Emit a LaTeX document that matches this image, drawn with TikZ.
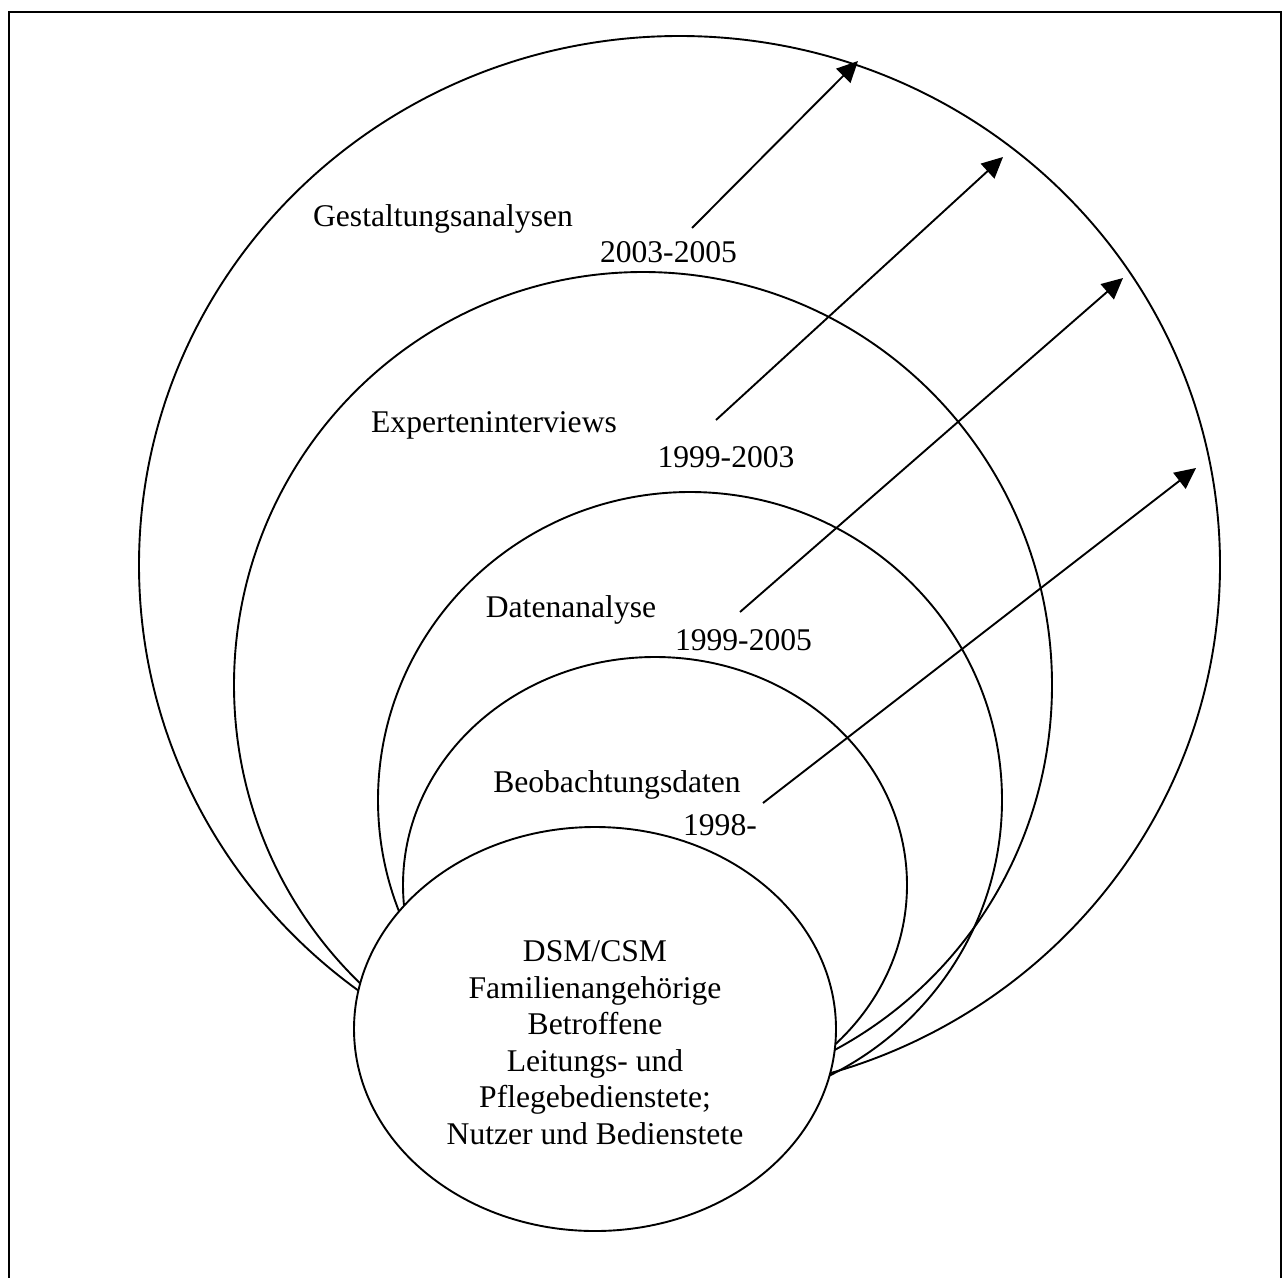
\documentclass[tikz,border=0pt]{standalone}
\usepackage{fontspec}
\setmainfont{Liberation Serif}
\usetikzlibrary{arrows.meta,shapes.geometric}
\begin{document}
\begin{tikzpicture}[x=1pt,y=-1pt,
  ring/.style={ellipse,draw,line width=1.9pt,inner sep=0pt,outer sep=0pt},
  lbl/.style={anchor=base,inner sep=0pt,font=\fontsize{31.6}{36.5}\selectfont},
  yr/.style={-{Triangle[length=21pt,width=20pt]},line width=1.9pt}]
\useasboundingbox (0,0) rectangle (1287,1277);
\draw[line width=2pt] (9,12) rectangle (1281,1300);
% rings
\node[ring,minimum width=1081pt,minimum height=1058pt] (e1) at (679.5,565) {};
\node[ring,minimum width=818pt,minimum height=826pt] (e2) at (643,685) {};
\node[ring,minimum width=624pt,minimum height=616pt] (e3) at (690,800) {};
\node[ring,minimum width=504pt,minimum height=456pt] (e4) at (655,885) {};
\node[ring,fill=white,minimum width=482pt,minimum height=404pt] (core) at (595,1029) {};
% arrows
\coordinate (a1s) at (692,228);  \coordinate (a1e) at (858,61);
\coordinate (a2s) at (716,420);  \coordinate (a2e) at (1003,157);
\coordinate (a3s) at (740,612);  \coordinate (a3e) at (1123,278);
\coordinate (a4s) at (763,803);  \coordinate (a4e) at (1196,468);
\draw[yr] (a1s) -- (a1e);
\draw[yr] (a2s) -- (a2e);
\draw[yr] (a3s) -- (a3e);
\draw[yr] (a4s) -- (a4e);
% labels
\node[lbl] (t1) at (443,226) {Gestaltungsanalysen};
\node[lbl] (y1) at (668.5,262) {2003-2005};
\node[lbl] (t2) at (494,432) {Experteninterviews};
\node[lbl] (y2) at (726,467) {1999-2003};
\node[lbl] (t3) at (571,617) {Datenanalyse};
\node[lbl] (y3) at (743.5,650) {1999-2005};
\node[lbl] (t4) at (617,792) {Beobachtungsdaten};
\node[lbl] (y4) at (720,835) {1998-};
\node[lbl,anchor=center,align=center] (ctext) at (595,1042.6)
  {DSM/CSM\\Familienangehörige\\Betroffene\\Leitungs- und\\Pflegebedienstete;\\Nutzer und Bedienstete};
\end{tikzpicture}
\end{document}
